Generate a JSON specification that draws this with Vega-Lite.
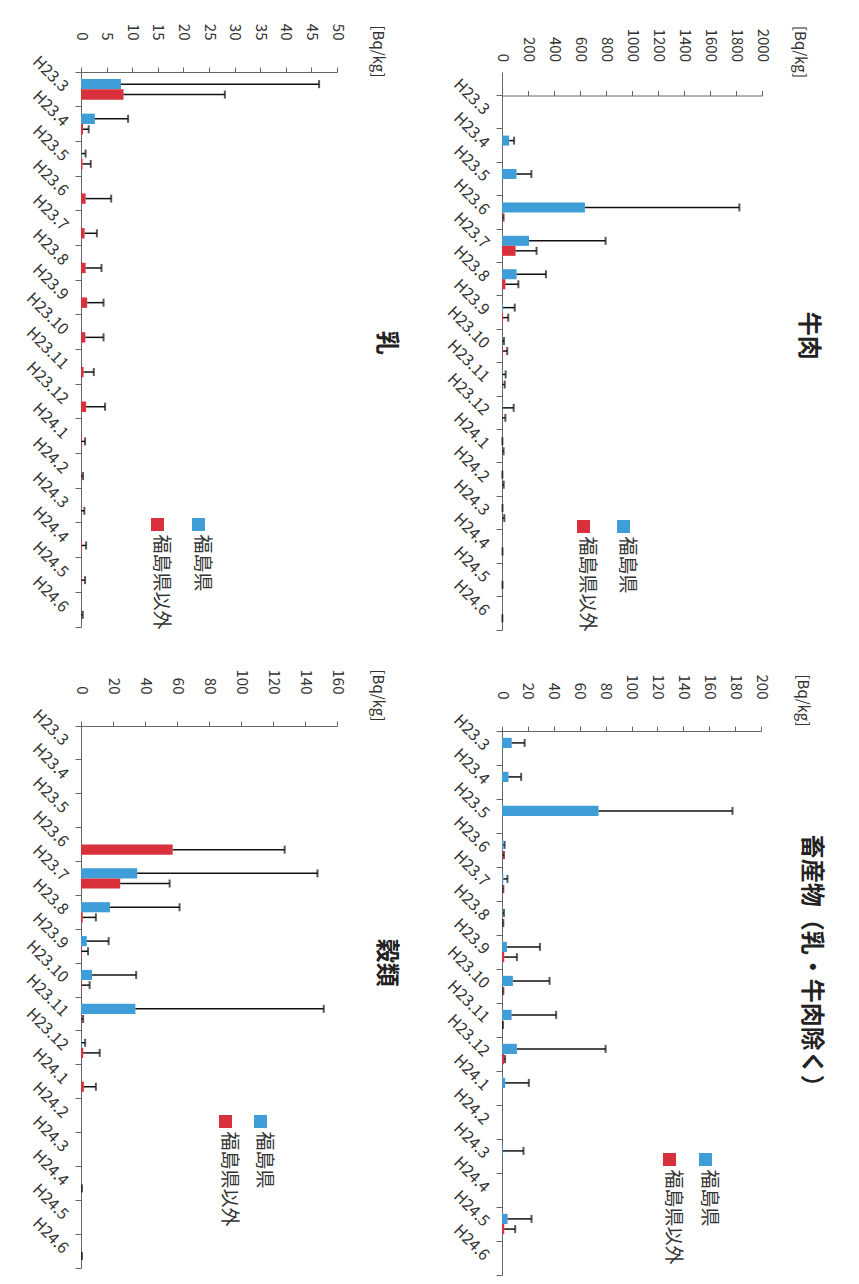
{
  "$schema": "https://vega.github.io/schema/vega-lite/v6.json",
  "background": "#ffffff",
  "padding": {"left": 22, "top": 23, "right": 20, "bottom": 4},
  "config": {
    "font": "Noto Sans CJK JP",
    "view": {"stroke": null},
    "axis": {"labelColor": "#333333", "domainColor": "#666666", "tickColor": "#666666", "grid": false, "labelFont": "Noto Sans CJK JP", "titleFont": "Noto Sans CJK JP", "titleColor": "#333333", "titleFontWeight": "normal"},
    "axisY": {"title": null, "labelAngle": 45, "labelAlign": "right", "labelBaseline": "middle", "labelFontSize": 16, "tickSize": 6, "labelPadding": 10, "bandPosition": 1, "tickExtra": true},
    "legend": {"labelFont": "Noto Sans CJK JP", "labelColor": "#333333", "labelFontSize": 19, "symbolType": "square", "symbolSize": 169, "symbolStrokeWidth": 0, "orient": "none", "direction": "horizontal", "title": null, "labelOffset": 0, "padding": 0},
    "title": {"font": "Noto Sans CJK JP", "fontSize": 24, "fontWeight": "bold", "color": "#222222", "orient": "right", "anchor": "middle", "frame": "bounds", "offset": -10}
  },
  "data": {"values": [
    {"panel": "乳", "month": "H23.3", "series": "福島県", "mean": 7.8, "upper": 46.5},
    {"panel": "乳", "month": "H23.3", "series": "福島県以外", "mean": 8.3, "upper": 28.1},
    {"panel": "乳", "month": "H23.4", "series": "福島県", "mean": 2.7, "upper": 9.2},
    {"panel": "乳", "month": "H23.4", "series": "福島県以外", "mean": 0.4, "upper": 1.5},
    {"panel": "乳", "month": "H23.5", "series": "福島県", "mean": 0.1, "upper": 0.9},
    {"panel": "乳", "month": "H23.5", "series": "福島県以外", "mean": 0.3, "upper": 1.9},
    {"panel": "乳", "month": "H23.6", "series": "福島県以外", "mean": 0.9, "upper": 5.9},
    {"panel": "乳", "month": "H23.7", "series": "福島県以外", "mean": 0.7, "upper": 3.1},
    {"panel": "乳", "month": "H23.8", "series": "福島県以外", "mean": 0.9, "upper": 4.0},
    {"panel": "乳", "month": "H23.9", "series": "福島県以外", "mean": 1.2, "upper": 4.4},
    {"panel": "乳", "month": "H23.10", "series": "福島県以外", "mean": 0.85, "upper": 4.4},
    {"panel": "乳", "month": "H23.11", "series": "福島県以外", "mean": 0.5, "upper": 2.5},
    {"panel": "乳", "month": "H23.12", "series": "福島県以外", "mean": 1.0, "upper": 4.7},
    {"panel": "乳", "month": "H24.1", "series": "福島県以外", "mean": 0.1, "upper": 0.8},
    {"panel": "乳", "month": "H24.2", "series": "福島県以外", "mean": 0.05, "upper": 0.4},
    {"panel": "乳", "month": "H24.3", "series": "福島県以外", "mean": 0.05, "upper": 0.65},
    {"panel": "乳", "month": "H24.4", "series": "福島県以外", "mean": 0.15, "upper": 1.0},
    {"panel": "乳", "month": "H24.5", "series": "福島県以外", "mean": 0.1, "upper": 0.8},
    {"panel": "乳", "month": "H24.6", "series": "福島県以外", "mean": 0.05, "upper": 0.35},

    {"panel": "牛肉", "month": "H23.4", "series": "福島県", "mean": 55, "upper": 93},
    {"panel": "牛肉", "month": "H23.5", "series": "福島県", "mean": 111, "upper": 226},
    {"panel": "牛肉", "month": "H23.6", "series": "福島県", "mean": 638, "upper": 1826},
    {"panel": "牛肉", "month": "H23.6", "series": "福島県以外", "mean": 5, "upper": 12},
    {"panel": "牛肉", "month": "H23.7", "series": "福島県", "mean": 208, "upper": 797},
    {"panel": "牛肉", "month": "H23.7", "series": "福島県以外", "mean": 104, "upper": 266},
    {"panel": "牛肉", "month": "H23.8", "series": "福島県", "mean": 112, "upper": 338},
    {"panel": "牛肉", "month": "H23.8", "series": "福島県以外", "mean": 26, "upper": 126},
    {"panel": "牛肉", "month": "H23.9", "series": "福島県", "mean": 8, "upper": 98},
    {"panel": "牛肉", "month": "H23.9", "series": "福島県以外", "mean": 8, "upper": 48},
    {"panel": "牛肉", "month": "H23.10", "series": "福島県", "mean": 3, "upper": 15},
    {"panel": "牛肉", "month": "H23.10", "series": "福島県以外", "mean": 7, "upper": 40},
    {"panel": "牛肉", "month": "H23.11", "series": "福島県", "mean": 3, "upper": 28},
    {"panel": "牛肉", "month": "H23.11", "series": "福島県以外", "mean": 2, "upper": 21},
    {"panel": "牛肉", "month": "H23.12", "series": "福島県", "mean": 4, "upper": 90},
    {"panel": "牛肉", "month": "H23.12", "series": "福島県以外", "mean": 2, "upper": 26},
    {"panel": "牛肉", "month": "H24.1", "series": "福島県", "mean": 1, "upper": 3},
    {"panel": "牛肉", "month": "H24.1", "series": "福島県以外", "mean": 2, "upper": 12},
    {"panel": "牛肉", "month": "H24.2", "series": "福島県", "mean": 1, "upper": 3},
    {"panel": "牛肉", "month": "H24.2", "series": "福島県以外", "mean": 2, "upper": 13},
    {"panel": "牛肉", "month": "H24.3", "series": "福島県", "mean": 1, "upper": 4},
    {"panel": "牛肉", "month": "H24.3", "series": "福島県以外", "mean": 2, "upper": 18},
    {"panel": "牛肉", "month": "H24.4", "series": "福島県以外", "mean": 1, "upper": 4},
    {"panel": "牛肉", "month": "H24.5", "series": "福島県以外", "mean": 1, "upper": 4},
    {"panel": "牛肉", "month": "H24.6", "series": "福島県以外", "mean": 1, "upper": 3},

    {"panel": "穀類", "month": "H23.6", "series": "福島県以外", "mean": 57.3, "upper": 127.3},
    {"panel": "穀類", "month": "H23.7", "series": "福島県", "mean": 35.1, "upper": 147.8},
    {"panel": "穀類", "month": "H23.7", "series": "福島県以外", "mean": 24.5, "upper": 55.4},
    {"panel": "穀類", "month": "H23.8", "series": "福島県", "mean": 18.1, "upper": 61.6},
    {"panel": "穀類", "month": "H23.8", "series": "福島県以外", "mean": 1.1, "upper": 9.3},
    {"panel": "穀類", "month": "H23.9", "series": "福島県", "mean": 3.6, "upper": 17.3},
    {"panel": "穀類", "month": "H23.9", "series": "福島県以外", "mean": 0.3, "upper": 4.4},
    {"panel": "穀類", "month": "H23.10", "series": "福島県", "mean": 6.9, "upper": 34.5},
    {"panel": "穀類", "month": "H23.10", "series": "福島県以外", "mean": 0.4, "upper": 5.4},
    {"panel": "穀類", "month": "H23.11", "series": "福島県", "mean": 34, "upper": 151.7},
    {"panel": "穀類", "month": "H23.11", "series": "福島県以外", "mean": 0.2, "upper": 1.3},
    {"panel": "穀類", "month": "H23.12", "series": "福島県", "mean": 0.3, "upper": 2.6},
    {"panel": "穀類", "month": "H23.12", "series": "福島県以外", "mean": 1.4, "upper": 11.7},
    {"panel": "穀類", "month": "H24.1", "series": "福島県以外", "mean": 1.8, "upper": 9.3},
    {"panel": "穀類", "month": "H24.4", "series": "福島県以外", "mean": 0.1, "upper": 0.6},
    {"panel": "穀類", "month": "H24.6", "series": "福島県以外", "mean": 0.1, "upper": 0.6},

    {"panel": "畜産物", "month": "H23.3", "series": "福島県", "mean": 7.5, "upper": 17.5},
    {"panel": "畜産物", "month": "H23.4", "series": "福島県", "mean": 5, "upper": 14.8},
    {"panel": "畜産物", "month": "H23.5", "series": "福島県", "mean": 74.5, "upper": 178},
    {"panel": "畜産物", "month": "H23.6", "series": "福島県", "mean": 1, "upper": 2},
    {"panel": "畜産物", "month": "H23.6", "series": "福島県以外", "mean": 0.5, "upper": 1.5},
    {"panel": "畜産物", "month": "H23.7", "series": "福島県", "mean": 1, "upper": 4.2},
    {"panel": "畜産物", "month": "H23.7", "series": "福島県以外", "mean": 0.5, "upper": 1},
    {"panel": "畜産物", "month": "H23.8", "series": "福島県", "mean": 0.5, "upper": 1.5},
    {"panel": "畜産物", "month": "H23.8", "series": "福島県以外", "mean": 0.3, "upper": 1},
    {"panel": "畜産物", "month": "H23.9", "series": "福島県", "mean": 3.8, "upper": 29.3},
    {"panel": "畜産物", "month": "H23.9", "series": "福島県以外", "mean": 1.7, "upper": 11.5},
    {"panel": "畜産物", "month": "H23.10", "series": "福島県", "mean": 8.4, "upper": 36.7},
    {"panel": "畜産物", "month": "H23.10", "series": "福島県以外", "mean": 0.5, "upper": 1},
    {"panel": "畜産物", "month": "H23.11", "series": "福島県", "mean": 7.4, "upper": 41.8},
    {"panel": "畜産物", "month": "H23.11", "series": "福島県以外", "mean": 0.3, "upper": 0.8},
    {"panel": "畜産物", "month": "H23.12", "series": "福島県", "mean": 11.5, "upper": 80},
    {"panel": "畜産物", "month": "H23.12", "series": "福島県以外", "mean": 1.7, "upper": 2.4},
    {"panel": "畜産物", "month": "H24.1", "series": "福島県", "mean": 2.4, "upper": 20.7},
    {"panel": "畜産物", "month": "H24.3", "series": "福島県", "mean": 0.6, "upper": 16.6},
    {"panel": "畜産物", "month": "H24.5", "series": "福島県", "mean": 4.3, "upper": 22.8},
    {"panel": "畜産物", "month": "H24.5", "series": "福島県以外", "mean": 1.7, "upper": 10.2}
  ]},
  "spacing": 45,
  "resolve": {"scale": {"color": "independent", "fill": "independent", "yOffset": "independent", "x": "independent", "y": "independent"}, "legend": {"color": "independent", "fill": "independent"}},
  "hconcat": [
    {
      "spacing": 39,
      "resolve": {"scale": {"color": "independent", "fill": "independent", "yOffset": "independent", "x": "independent", "y": "independent"}, "legend": {"color": "independent", "fill": "independent"}},
      "vconcat": [
        {
          "width": 256, "height": 555,
          "title": {"text": "乳", "dx": 16},
          "transform": [{"filter": "datum.panel === '乳'"}],
          "encoding": {
            "y": {"field": "month", "type": "nominal", "scale": {"domain": ["H23.3","H23.4","H23.5","H23.6","H23.7","H23.8","H23.9","H23.10","H23.11","H23.12","H24.1","H24.2","H24.3","H24.4","H24.5","H24.6"], "paddingInner": 0, "paddingOuter": 0}},
            "yOffset": {"field": "series", "type": "nominal", "scale": {"domain": ["福島県","福島県以外"], "paddingInner": 0, "paddingOuter": 0.67}}
          },
          "layer": [
            {"transform": [{"filter": "datum.series === '福島県'"}],
             "mark": {"type": "bar"},
             "encoding": {
               "x": {"field": "mean", "type": "quantitative", "scale": {"domain": [0, 50], "nice": false},
                 "axis": {"orient": "top", "values": [0,5,10,15,20,25,30,35,40,45,50], "format": "d", "labelOverlap": false, "labelSeparation": -50, "labelAngle": 90, "labelAlign": "right", "labelBaseline": "middle", "labelFontSize": 15, "tickSize": 5, "labelPadding": 27, "title": "[Bq/kg]", "titleAngle": 90, "titleAlign": "left", "titleBaseline": "middle", "titleFontSize": 15, "titleX": 296, "titleY": -47}},
               "color": {"field": "series", "type": "nominal", "scale": {"domain": ["福島県"], "range": ["#3f9dd8"]},
                 "legend": {"legendX": 108, "legendY": 443, "encoding": {"labels": {"angle": {"value": 90}, "dx": {"value": 10}, "dy": {"value": 6.5}}}}}
             }},
            {"transform": [{"filter": "datum.series === '福島県以外'"}],
             "mark": {"type": "bar"},
             "encoding": {
               "x": {"field": "mean", "type": "quantitative",
                 "axis": {"orient": "top", "values": [0,5,10,15,20,25,30,35,40,45,50], "format": "d", "labelOverlap": false, "labelSeparation": -50, "labelAngle": 90, "labelAlign": "right", "labelBaseline": "middle", "labelFontSize": 15, "tickSize": 5, "labelPadding": 27, "title": "[Bq/kg]", "titleAngle": 90, "titleAlign": "left", "titleBaseline": "middle", "titleFontSize": 15, "titleX": 296, "titleY": -47}},
               "fill": {"field": "series", "type": "nominal", "scale": {"domain": ["福島県以外"], "range": ["#d8313b"]},
                 "legend": {"legendX": 67, "legendY": 443, "encoding": {"labels": {"angle": {"value": 90}, "dx": {"value": 10}, "dy": {"value": 6.5}}}}}
             }},
            {"mark": {"type": "rule", "color": "#111111", "strokeWidth": 1.5},
             "encoding": {"x": {"field": "mean", "type": "quantitative",
                 "axis": {"orient": "top", "values": [0,5,10,15,20,25,30,35,40,45,50], "format": "d", "labelOverlap": false, "labelSeparation": -50, "labelAngle": 90, "labelAlign": "right", "labelBaseline": "middle", "labelFontSize": 15, "tickSize": 5, "labelPadding": 27, "title": "[Bq/kg]", "titleAngle": 90, "titleAlign": "left", "titleBaseline": "middle", "titleFontSize": 15, "titleX": 296, "titleY": -47}},
               "x2": {"field": "upper"}}},
            {"mark": {"type": "tick", "color": "#111111", "thickness": 2, "size": 8},
             "encoding": {"x": {"field": "upper", "type": "quantitative",
                 "axis": {"orient": "top", "values": [0,5,10,15,20,25,30,35,40,45,50], "format": "d", "labelOverlap": false, "labelSeparation": -50, "labelAngle": 90, "labelAlign": "right", "labelBaseline": "middle", "labelFontSize": 15, "tickSize": 5, "labelPadding": 27, "title": "[Bq/kg]", "titleAngle": 90, "titleAlign": "left", "titleBaseline": "middle", "titleFontSize": 15, "titleX": 296, "titleY": -47}}}}
          ]
        },
        {
          "width": 256, "height": 542,
          "title": {"text": "穀類", "dx": -6},
          "transform": [{"filter": "datum.panel === '穀類'"}],
          "encoding": {
            "y": {"field": "month", "type": "nominal", "scale": {"domain": ["H23.3","H23.4","H23.5","H23.6","H23.7","H23.8","H23.9","H23.10","H23.11","H23.12","H24.1","H24.2","H24.3","H24.4","H24.5","H24.6"], "paddingInner": 0, "paddingOuter": 0}},
            "yOffset": {"field": "series", "type": "nominal", "scale": {"domain": ["福島県","福島県以外"], "paddingInner": 0, "paddingOuter": 0.67}}
          },
          "layer": [
            {"transform": [{"filter": "datum.series === '福島県'"}],
             "mark": {"type": "bar"},
             "encoding": {
               "x": {"field": "mean", "type": "quantitative", "scale": {"domain": [0, 160], "nice": false},
                 "axis": {"orient": "top", "values": [0,20,40,60,80,100,120,140,160], "format": "d", "labelOverlap": false, "labelSeparation": -50, "labelAngle": 90, "labelAlign": "right", "labelBaseline": "middle", "labelFontSize": 15, "tickSize": 5, "labelPadding": 27, "title": "[Bq/kg]", "titleAngle": 90, "titleAlign": "left", "titleBaseline": "middle", "titleFontSize": 15, "titleX": 296, "titleY": -57}},
               "color": {"field": "series", "type": "nominal", "scale": {"domain": ["福島県"], "range": ["#3f9dd8"]},
                 "legend": {"legendX": 170, "legendY": 386, "encoding": {"labels": {"angle": {"value": 90}, "dx": {"value": 10}, "dy": {"value": 6.5}}}}}
             }},
            {"transform": [{"filter": "datum.series === '福島県以外'"}],
             "mark": {"type": "bar"},
             "encoding": {
               "x": {"field": "mean", "type": "quantitative",
                 "axis": {"orient": "top", "values": [0,20,40,60,80,100,120,140,160], "format": "d", "labelOverlap": false, "labelSeparation": -50, "labelAngle": 90, "labelAlign": "right", "labelBaseline": "middle", "labelFontSize": 15, "tickSize": 5, "labelPadding": 27, "title": "[Bq/kg]", "titleAngle": 90, "titleAlign": "left", "titleBaseline": "middle", "titleFontSize": 15, "titleX": 296, "titleY": -57}},
               "fill": {"field": "series", "type": "nominal", "scale": {"domain": ["福島県以外"], "range": ["#d8313b"]},
                 "legend": {"legendX": 135, "legendY": 386, "encoding": {"labels": {"angle": {"value": 90}, "dx": {"value": 10}, "dy": {"value": 6.5}}}}}
             }},
            {"mark": {"type": "rule", "color": "#111111", "strokeWidth": 1.5},
             "encoding": {"x": {"field": "mean", "type": "quantitative",
                 "axis": {"orient": "top", "values": [0,20,40,60,80,100,120,140,160], "format": "d", "labelOverlap": false, "labelSeparation": -50, "labelAngle": 90, "labelAlign": "right", "labelBaseline": "middle", "labelFontSize": 15, "tickSize": 5, "labelPadding": 27, "title": "[Bq/kg]", "titleAngle": 90, "titleAlign": "left", "titleBaseline": "middle", "titleFontSize": 15, "titleX": 296, "titleY": -57}},
               "x2": {"field": "upper"}}},
            {"mark": {"type": "tick", "color": "#111111", "thickness": 2, "size": 8},
             "encoding": {"x": {"field": "upper", "type": "quantitative",
                 "axis": {"orient": "top", "values": [0,20,40,60,80,100,120,140,160], "format": "d", "labelOverlap": false, "labelSeparation": -50, "labelAngle": 90, "labelAlign": "right", "labelBaseline": "middle", "labelFontSize": 15, "tickSize": 5, "labelPadding": 27, "title": "[Bq/kg]", "titleAngle": 90, "titleAlign": "left", "titleBaseline": "middle", "titleFontSize": 15, "titleX": 296, "titleY": -57}}}}
          ]
        }
      ]
    },
    {
      "spacing": 42,
      "resolve": {"scale": {"color": "independent", "fill": "independent", "yOffset": "independent", "x": "independent", "y": "independent"}, "legend": {"color": "independent", "fill": "independent"}},
      "vconcat": [
        {
          "width": 260, "height": 558,
          "title": {"text": "牛肉", "dx": 7},
          "transform": [{"filter": "datum.panel === '牛肉'"}],
          "encoding": {
            "y": {"field": "month", "type": "nominal", "scale": {"domain": ["H23.3","H23.4","H23.5","H23.6","H23.7","H23.8","H23.9","H23.10","H23.11","H23.12","H24.1","H24.2","H24.3","H24.4","H24.5","H24.6"], "paddingInner": 0, "paddingOuter": 0.3517, "align": 1}},
            "yOffset": {"field": "series", "type": "nominal", "scale": {"domain": ["福島県","福島県以外"], "paddingInner": 0, "paddingOuter": 0.67}}
          },
          "layer": [
            {"transform": [{"filter": "datum.series === '福島県'"}],
             "mark": {"type": "bar"},
             "encoding": {
               "x": {"field": "mean", "type": "quantitative", "scale": {"domain": [0, 2000], "nice": false},
                 "axis": {"orient": "top", "offset": -23.5, "values": [0,200,400,600,800,1000,1200,1400,1600,1800,2000], "format": "d", "labelOverlap": false, "labelSeparation": -50, "labelAngle": 90, "labelAlign": "right", "labelBaseline": "middle", "labelFontSize": 15, "tickSize": 5, "labelPadding": 29, "title": "[Bq/kg]", "titleAngle": 90, "titleAlign": "left", "titleBaseline": "middle", "titleFontSize": 15, "titleX": 297, "titleY": -70}},
               "color": {"field": "series", "type": "nominal", "scale": {"domain": ["福島県"], "range": ["#3f9dd8"]},
                 "legend": {"legendX": 112, "legendY": 445, "encoding": {"labels": {"angle": {"value": 90}, "dx": {"value": 10}, "dy": {"value": 6.5}}}}}
             }},
            {"transform": [{"filter": "datum.series === '福島県以外'"}],
             "mark": {"type": "bar"},
             "encoding": {
               "x": {"field": "mean", "type": "quantitative",
                 "axis": {"orient": "top", "offset": -23.5, "values": [0,200,400,600,800,1000,1200,1400,1600,1800,2000], "format": "d", "labelOverlap": false, "labelSeparation": -50, "labelAngle": 90, "labelAlign": "right", "labelBaseline": "middle", "labelFontSize": 15, "tickSize": 5, "labelPadding": 29, "title": "[Bq/kg]", "titleAngle": 90, "titleAlign": "left", "titleBaseline": "middle", "titleFontSize": 15, "titleX": 297, "titleY": -70}},
               "fill": {"field": "series", "type": "nominal", "scale": {"domain": ["福島県以外"], "range": ["#d8313b"]},
                 "legend": {"legendX": 72, "legendY": 445, "encoding": {"labels": {"angle": {"value": 90}, "dx": {"value": 10}, "dy": {"value": 6.5}}}}}
             }},
            {"mark": {"type": "rule", "color": "#111111", "strokeWidth": 1.5},
             "encoding": {"x": {"field": "mean", "type": "quantitative",
                 "axis": {"orient": "top", "offset": -23.5, "values": [0,200,400,600,800,1000,1200,1400,1600,1800,2000], "format": "d", "labelOverlap": false, "labelSeparation": -50, "labelAngle": 90, "labelAlign": "right", "labelBaseline": "middle", "labelFontSize": 15, "tickSize": 5, "labelPadding": 29, "title": "[Bq/kg]", "titleAngle": 90, "titleAlign": "left", "titleBaseline": "middle", "titleFontSize": 15, "titleX": 297, "titleY": -70}},
               "x2": {"field": "upper"}}},
            {"mark": {"type": "tick", "color": "#111111", "thickness": 2, "size": 8},
             "encoding": {"x": {"field": "upper", "type": "quantitative",
                 "axis": {"orient": "top", "offset": -23.5, "values": [0,200,400,600,800,1000,1200,1400,1600,1800,2000], "format": "d", "labelOverlap": false, "labelSeparation": -50, "labelAngle": 90, "labelAlign": "right", "labelBaseline": "middle", "labelFontSize": 15, "tickSize": 5, "labelPadding": 29, "title": "[Bq/kg]", "titleAngle": 90, "titleAlign": "left", "titleBaseline": "middle", "titleFontSize": 15, "titleX": 297, "titleY": -70}}}}
          ]
        },
        {
          "width": 259, "height": 544,
          "title": {"text": "畜産物（乳・牛肉除く）", "dx": -8},
          "transform": [{"filter": "datum.panel === '畜産物'"}],
          "encoding": {
            "y": {"field": "month", "type": "nominal", "scale": {"domain": ["H23.3","H23.4","H23.5","H23.6","H23.7","H23.8","H23.9","H23.10","H23.11","H23.12","H24.1","H24.2","H24.3","H24.4","H24.5","H24.6"], "paddingInner": 0, "paddingOuter": 0}},
            "yOffset": {"field": "series", "type": "nominal", "scale": {"domain": ["福島県","福島県以外"], "paddingInner": 0, "paddingOuter": 0.67}}
          },
          "layer": [
            {"transform": [{"filter": "datum.series === '福島県'"}],
             "mark": {"type": "bar"},
             "encoding": {
               "x": {"field": "mean", "type": "quantitative", "scale": {"domain": [0, 200], "nice": false},
                 "axis": {"orient": "top", "values": [0,20,40,60,80,100,120,140,160,180,200], "format": "d", "labelOverlap": false, "labelSeparation": -50, "labelAngle": 90, "labelAlign": "right", "labelBaseline": "middle", "labelFontSize": 15, "tickSize": 5, "labelPadding": 27, "title": "[Bq/kg]", "titleAngle": 90, "titleAlign": "left", "titleBaseline": "middle", "titleFontSize": 15, "titleX": 300, "titleY": -57}},
               "color": {"field": "series", "type": "nominal", "scale": {"domain": ["福島県"], "range": ["#3f9dd8"]},
                 "legend": {"legendX": 194, "legendY": 419, "encoding": {"labels": {"angle": {"value": 90}, "dx": {"value": 10}, "dy": {"value": 6.5}}}}}
             }},
            {"transform": [{"filter": "datum.series === '福島県以外'"}],
             "mark": {"type": "bar"},
             "encoding": {
               "x": {"field": "mean", "type": "quantitative",
                 "axis": {"orient": "top", "values": [0,20,40,60,80,100,120,140,160,180,200], "format": "d", "labelOverlap": false, "labelSeparation": -50, "labelAngle": 90, "labelAlign": "right", "labelBaseline": "middle", "labelFontSize": 15, "tickSize": 5, "labelPadding": 27, "title": "[Bq/kg]", "titleAngle": 90, "titleAlign": "left", "titleBaseline": "middle", "titleFontSize": 15, "titleX": 300, "titleY": -57}},
               "fill": {"field": "series", "type": "nominal", "scale": {"domain": ["福島県以外"], "range": ["#d8313b"]},
                 "legend": {"legendX": 158, "legendY": 419, "encoding": {"labels": {"angle": {"value": 90}, "dx": {"value": 10}, "dy": {"value": 6.5}}}}}
             }},
            {"mark": {"type": "rule", "color": "#111111", "strokeWidth": 1.5},
             "encoding": {"x": {"field": "mean", "type": "quantitative",
                 "axis": {"orient": "top", "values": [0,20,40,60,80,100,120,140,160,180,200], "format": "d", "labelOverlap": false, "labelSeparation": -50, "labelAngle": 90, "labelAlign": "right", "labelBaseline": "middle", "labelFontSize": 15, "tickSize": 5, "labelPadding": 27, "title": "[Bq/kg]", "titleAngle": 90, "titleAlign": "left", "titleBaseline": "middle", "titleFontSize": 15, "titleX": 300, "titleY": -57}},
               "x2": {"field": "upper"}}},
            {"mark": {"type": "tick", "color": "#111111", "thickness": 2, "size": 8},
             "encoding": {"x": {"field": "upper", "type": "quantitative",
                 "axis": {"orient": "top", "values": [0,20,40,60,80,100,120,140,160,180,200], "format": "d", "labelOverlap": false, "labelSeparation": -50, "labelAngle": 90, "labelAlign": "right", "labelBaseline": "middle", "labelFontSize": 15, "tickSize": 5, "labelPadding": 27, "title": "[Bq/kg]", "titleAngle": 90, "titleAlign": "left", "titleBaseline": "middle", "titleFontSize": 15, "titleX": 300, "titleY": -57}}}}
          ]
        }
      ]
    }
  ]
}
